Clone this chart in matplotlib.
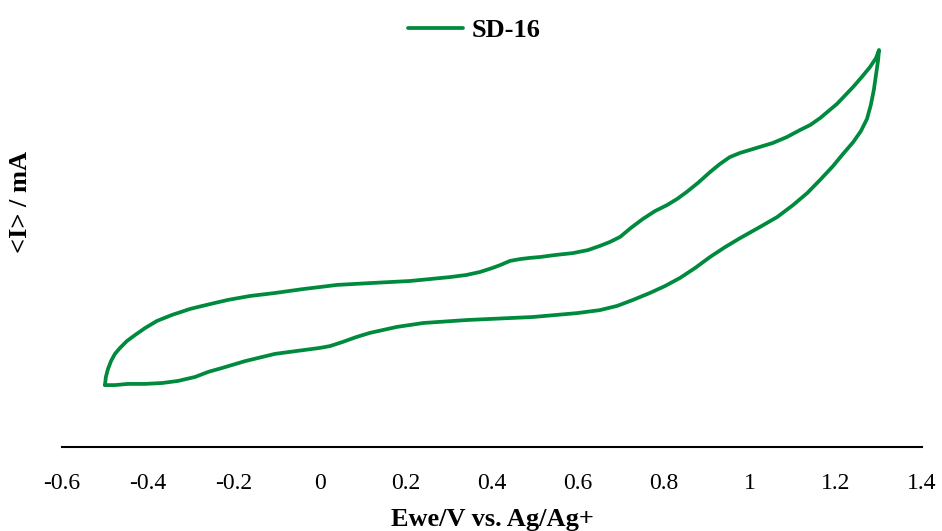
import matplotlib
matplotlib.use('Agg')
import matplotlib.pyplot as plt

plt.rcParams['font.family'] = ['Liberation Serif', 'DejaVu Serif']

# cyclic voltammogram of SD-16
# forward scan (-0.5 V -> 1.3 V)
ewe_fwd = [-0.500, -0.498, -0.493, -0.486, -0.477, -0.465, -0.449, -0.430, -0.407, -0.379,
           -0.344, -0.302, -0.256, -0.214, -0.163, -0.105, -0.040, 0.040, 0.116, 0.209,
           0.302, 0.340, 0.372, 0.400, 0.419, 0.442, 0.465, 0.488, 0.512, 0.549,
           0.588, 0.623, 0.651, 0.674, 0.698, 0.723, 0.751, 0.779, 0.807, 0.830,
           0.853, 0.879, 0.907, 0.930, 0.953, 0.977, 1.000, 1.053, 1.086, 1.116,
           1.140, 1.163, 1.202, 1.240, 1.260, 1.279, 1.293, 1.300]
i_fwd = [-0.117, -0.090, -0.063, -0.037, -0.013, 0.007, 0.030, 0.050, 0.073, 0.097,
         0.117, 0.137, 0.153, 0.167, 0.180, 0.190, 0.203, 0.217, 0.223, 0.230,
         0.243, 0.250, 0.260, 0.273, 0.283, 0.297, 0.303, 0.307, 0.310, 0.317,
         0.323, 0.333, 0.347, 0.360, 0.377, 0.407, 0.437, 0.463, 0.483, 0.503,
         0.527, 0.557, 0.593, 0.620, 0.643, 0.657, 0.667, 0.690, 0.710, 0.733,
         0.750, 0.773, 0.820, 0.877, 0.910, 0.943, 0.973, 1.000]

# reverse scan (1.3 V -> -0.5 V)
ewe_rev = [1.298, 1.293, 1.288, 1.281, 1.272, 1.258, 1.240, 1.216, 1.193, 1.163,
           1.133, 1.100, 1.063, 1.023, 0.977, 0.942, 0.907, 0.872, 0.837, 0.802,
           0.767, 0.728, 0.691, 0.651, 0.598, 0.495, 0.342, 0.240, 0.179, 0.116,
           0.084, 0.053, 0.023, 0.000, -0.053, -0.105, -0.174, -0.228, -0.260, -0.291,
           -0.330, -0.367, -0.407, -0.447, -0.477, -0.500]
i_rev = [0.967, 0.917, 0.867, 0.817, 0.770, 0.730, 0.693, 0.653, 0.613, 0.567,
         0.523, 0.483, 0.443, 0.410, 0.373, 0.343, 0.310, 0.273, 0.240, 0.213,
         0.190, 0.167, 0.147, 0.133, 0.123, 0.110, 0.100, 0.090, 0.077, 0.057,
         0.043, 0.027, 0.013, 0.007, -0.003, -0.013, -0.037, -0.060, -0.073, -0.090,
         -0.103, -0.110, -0.113, -0.113, -0.117, -0.117]

x_ticks = [-0.6, -0.4, -0.2, 0, 0.2, 0.4, 0.6, 0.8, 1.0, 1.2, 1.4]
x_tick_labels = ['-0.6', '-0.4', '-0.2', '0', '0.2', '0.4', '0.6', '0.8', '1', '1.2', '1.4']

GREEN = '#008A3E'

fig = plt.figure(figsize=(9.42, 5.31), dpi=100)
ax = fig.add_axes([62 / 942, 84 / 531, 860 / 942, 407 / 531])

ax.plot(ewe_fwd + ewe_rev, i_fwd + i_rev, color=GREEN, lw=2.7,
        solid_joinstyle='round', solid_capstyle='round', label='SD-16')

ax.set_xlim(-0.6, 1.4)
ax.set_ylim(-0.3233, 1.0333)
ax.set_xticks(x_ticks)
ax.set_xticklabels(x_tick_labels)
ax.tick_params(axis='x', length=0, pad=19, labelsize=17)
ax.set_yticks([])

for side in ['left', 'right', 'top']:
    ax.spines[side].set_visible(False)
ax.spines['bottom'].set_linewidth(1.5)
ax.spines['bottom'].set_color('black')

ax.set_xlabel('Ewe/V vs. Ag/Ag+', fontsize=19, fontweight='bold', labelpad=10)
fig.text(21 / 942, 1 - 202 / 531, '<I> / mA', rotation=90, ha='center', va='center',
         fontsize=19, fontweight='bold')

fig.legend(loc='center', bbox_to_anchor=(474 / 942, 1 - 30 / 531), frameon=False,
           prop={'size': 19, 'weight': 'bold'}, handlelength=2.1, handletextpad=0.3)

fig.savefig('out.png', dpi=100)
